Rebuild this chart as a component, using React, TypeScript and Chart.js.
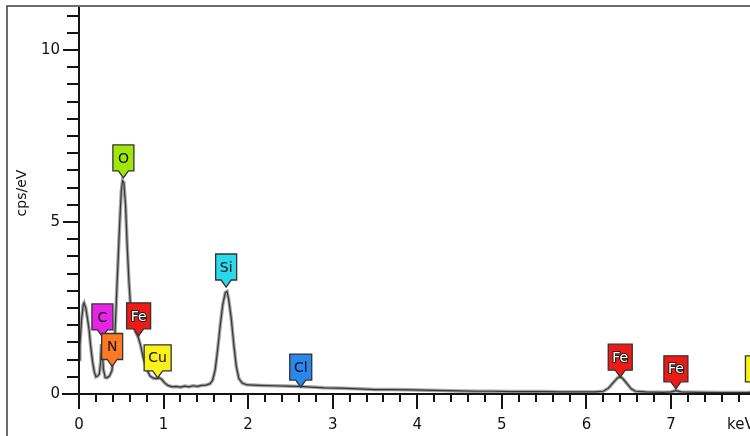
import React, { useEffect, useRef } from "react";
import { Chart, registerables } from "chart.js";

Chart.register(...registerables);

// EDS spectrum trace: energy (keV) and intensity (cps/eV)
const specKeV = [
  0.0, 0.01, 0.03, 0.05, 0.06, 0.08, 0.1, 0.12, 0.14, 0.16, 0.18, 0.2, 0.22, 0.24,
  0.255, 0.265, 0.275, 0.29, 0.31, 0.33, 0.36, 0.39, 0.42, 0.45, 0.48, 0.5, 0.515,
  0.53, 0.55, 0.57, 0.59, 0.61, 0.64, 0.67, 0.7, 0.73, 0.76, 0.8, 0.84, 0.88, 0.92,
  0.95, 0.98, 1.01, 1.05, 1.1, 1.15, 1.2, 1.25, 1.3, 1.35, 1.4, 1.45, 1.5, 1.55,
  1.58, 1.61, 1.64, 1.67, 1.7, 1.73, 1.75, 1.77, 1.8, 1.83, 1.86, 1.89, 1.93, 1.98,
  2.05, 2.15, 2.3, 2.45, 2.6, 2.75, 2.9, 3.1, 3.3, 3.5, 3.7, 3.9, 4.1, 4.3, 4.5,
  4.7, 4.9, 5.1, 5.3, 5.5, 5.7, 5.9, 6.1, 6.2, 6.26, 6.32, 6.37, 6.4, 6.43, 6.48,
  6.53, 6.58, 6.7, 6.9, 7.0, 7.06, 7.12, 7.3, 7.6, 7.9, 8.04, 8.2, 8.5,
];
const specCps = [
  1.0, 1.4, 2.15, 2.6, 2.65, 2.5, 2.2, 1.85, 1.35, 0.95, 0.65, 0.5, 0.52, 0.58,
  0.9, 1.45, 1.2, 0.7, 0.48, 0.47, 0.52, 0.68, 1.45, 3.2, 4.9, 5.9, 6.2,
  6.15, 5.5, 4.3, 3.3, 2.55, 2.05, 1.8, 1.65, 1.4, 1.05, 0.72, 0.52, 0.46, 0.45,
  0.47, 0.42, 0.33, 0.25, 0.21, 0.22, 0.2, 0.23, 0.21, 0.24, 0.22, 0.25, 0.26, 0.3,
  0.4, 0.7, 1.3, 2.0, 2.6, 2.95, 2.98, 2.75, 2.2, 1.45, 0.8, 0.45, 0.32, 0.27,
  0.26, 0.25, 0.24, 0.23, 0.22, 0.2, 0.18, 0.17, 0.15, 0.13, 0.13, 0.12, 0.11, 0.1, 0.09,
  0.08, 0.08, 0.07, 0.07, 0.07, 0.06, 0.06, 0.06, 0.08, 0.17, 0.34, 0.47, 0.5, 0.45, 0.3,
  0.15, 0.08, 0.06, 0.05, 0.06, 0.1, 0.06, 0.05, 0.04, 0.04, 0.08, 0.04, 0.04,
];

// Element line markers
const markerText = ["C", "N", "O", "Fe", "Cu", "Si", "Cl", "Fe", "Fe", "Cu"];
const markerKeV = [0.277, 0.392, 0.525, 0.705, 0.93, 1.74, 2.622, 6.4, 7.058, 8.04];
const markerCps = [1.66, 0.8, 6.28, 1.69, 0.47, 3.11, 0.2, 0.49, 0.15, 0.15];
const markerFill = [
  "#e624e6", "#ff7a22", "#9fe80a", "#ee1a14", "#fbf21c", "#2cd9ea", "#2a88ec",
  "#ee1a14", "#ee1a14", "#fbf21c",
];
const markerInk = ["#111", "#111", "#111", "#fff", "#111", "#111", "#111", "#fff", "#fff", "#111"];

// Axis ticks
const xTickValues = [0, 1, 2, 3, 4, 5, 6, 7];
const xTickLabels = ["0", "1", "2", "3", "4", "5", "6", "7"];
const xUnitLabel = "keV";
const yTickValues = [0, 5, 10];
const yTickLabels = ["0", "5", "10"];
const yTitle = "cps/eV";

const X_MAX = 8.5;
const Y_MAX = 11.25;
const CANVAS_W = 800;
const CANVAS_H = 436;

const FONT = '"DejaVu Sans", sans-serif';

const decorations = {
  id: "decorations",
  afterDatasetsDraw(chart: any) {
    const { ctx, scales } = chart;
    const xs = scales.x;
    const ys = scales.y;
    const x0 = Math.round(xs.getPixelForValue(0));
    const y0 = Math.round(ys.getPixelForValue(0));
    ctx.save();

    // outer frame (top and left edges)
    ctx.strokeStyle = "#3c3c3c";
    ctx.lineWidth = 1.5;
    ctx.beginPath();
    ctx.moveTo(7, CANVAS_H);
    ctx.lineTo(7, 6);
    ctx.lineTo(CANVAS_W, 6);
    ctx.stroke();

    // axis lines
    ctx.strokeStyle = "#141414";
    ctx.lineWidth = 2;
    ctx.beginPath();
    ctx.moveTo(x0 - 17, y0);
    ctx.lineTo(CANVAS_W, y0);
    ctx.moveTo(x0, ys.top);
    ctx.lineTo(x0, y0 + 15);
    ctx.stroke();

    // x ticks: minor every 0.2 keV, major every 1 keV
    ctx.beginPath();
    for (let i = 1; i * 0.2 <= X_MAX + 1e-6; i++) {
      const v = i * 0.2;
      const px = Math.round(xs.getPixelForValue(v));
      const major = i % 5 === 0;
      ctx.moveTo(px, y0);
      ctx.lineTo(px, y0 + (major ? 15 : 8));
    }
    // y ticks: minor every 0.5, major every 5
    for (let i = 1; i * 0.5 <= Y_MAX - 0.2; i++) {
      const v = i * 0.5;
      const py = Math.round(ys.getPixelForValue(v));
      const major = i % 10 === 0;
      ctx.moveTo(x0 - (major ? 16 : 12), py);
      ctx.lineTo(x0, py);
    }
    ctx.stroke();

    // tick labels
    ctx.fillStyle = "#111";
    ctx.font = `15px ${FONT}`;
    ctx.textAlign = "center";
    ctx.textBaseline = "middle";
    xTickValues.forEach((v, i) => {
      ctx.fillText(xTickLabels[i], xs.getPixelForValue(v), 425);
    });
    ctx.textAlign = "left";
    ctx.fillText(xUnitLabel, 727, 425);
    ctx.textAlign = "right";
    yTickValues.forEach((v, i) => {
      ctx.fillText(yTickLabels[i], x0 - 19, ys.getPixelForValue(v));
    });

    // y title
    ctx.save();
    ctx.translate(22, 193);
    ctx.rotate(-Math.PI / 2);
    ctx.textAlign = "center";
    ctx.font = `14px ${FONT}`;
    ctx.fillText(yTitle, 0, 0);
    ctx.restore();

    // element markers: tag with a pointer at the line energy
    ctx.font = `14px ${FONT}`;
    markerText.forEach((txt, i) => {
      const cx = xs.getPixelForValue(markerKeV[i]);
      const tip = ys.getPixelForValue(markerCps[i]);
      const tw = ctx.measureText(txt).width;
      const w = Math.max(21, Math.round(tw + 8));
      const h = 26;
      const bottom = tip - 7;
      const top = bottom - h;
      const left = cx - w / 2;
      ctx.beginPath();
      ctx.moveTo(left, top);
      ctx.lineTo(left + w, top);
      ctx.lineTo(left + w, bottom);
      ctx.lineTo(cx + 5, bottom);
      ctx.lineTo(cx, tip);
      ctx.lineTo(cx - 5, bottom);
      ctx.lineTo(left, bottom);
      ctx.closePath();
      ctx.fillStyle = markerFill[i];
      ctx.fill();
      ctx.strokeStyle = "#333";
      ctx.lineWidth = 1.3;
      ctx.stroke();
      ctx.textAlign = "center";
      ctx.textBaseline = "middle";
      if (markerInk[i] === "#fff") {
        ctx.lineWidth = 2.2;
        ctx.strokeStyle = "#222";
        ctx.strokeText(txt, cx, top + h / 2 + 1);
      }
      ctx.fillStyle = markerInk[i];
      ctx.fillText(txt, cx, top + h / 2 + 1);
    });

    ctx.restore();
  },
};

export default function App() {
  const canvasRef = useRef<HTMLCanvasElement | null>(null);

  useEffect(() => {
    const canvas = canvasRef.current;
    if (!canvas) return;
    const points = specKeV.map((k, i) => ({ x: k, y: specCps[i] }));
    const chart = new Chart(canvas, {
      type: "line",
      data: {
        datasets: [
          {
            data: points,
            borderColor: "#a4a4a4",
            borderWidth: 3.5,
            pointRadius: 0,
            tension: 0,
            order: 2,
          },
          {
            data: points,
            borderColor: "#363636",
            borderWidth: 1.2,
            pointRadius: 0,
            tension: 0,
            order: 1,
          },
        ],
      },
      options: {
        animation: false,
        responsive: false,
        devicePixelRatio: 1,
        layout: {
          padding: { left: 79, top: 7, right: CANVAS_W - 79 - X_MAX * 84.57, bottom: 42 },
        },
        plugins: { legend: { display: false }, tooltip: { enabled: false } },
        scales: {
          x: { type: "linear", min: 0, max: X_MAX, display: false },
          y: { type: "linear", min: 0, max: Y_MAX, display: false },
        },
      },
      plugins: [decorations],
    });
    return () => chart.destroy();
  }, []);

  return (
    <div
      style={{
        position: "fixed",
        left: 0,
        top: 0,
        width: 750,
        height: 436,
        overflow: "hidden",
        background: "#fff",
      }}
    >
      <canvas
        ref={canvasRef}
        width={CANVAS_W}
        height={CANVAS_H}
        style={{ width: CANVAS_W, height: CANVAS_H, display: "block" }}
      />
    </div>
  );
}
